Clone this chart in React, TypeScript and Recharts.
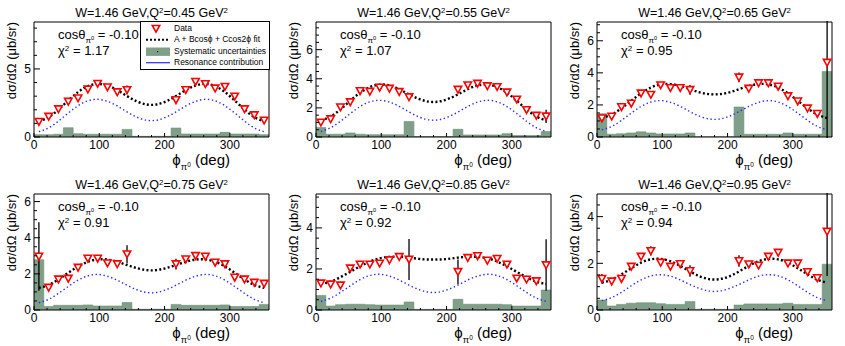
import React from 'react';
import { ComposedChart, XAxis, YAxis, Line, Area, Scatter, ErrorBar, ReferenceArea } from 'recharts';

const FONT = '"Liberation Sans", Arial, Helvetica, sans-serif';

// phi bin centres and bin edges (deg)
const PHI = [7.5, 22.5, 37.5, 52.5, 67.5, 82.5, 97.5, 112.5, 127.5, 142.5, 157.5, 172.5, 187.5, 202.5, 217.5, 232.5, 247.5, 262.5, 277.5, 292.5, 307.5, 322.5, 337.5, 352.5];
const EDGES = [0, 15, 30, 45, 60, 75, 90, 105, 120, 135, 150, 165, 180, 195, 210, 225, 240, 255, 270, 285, 300, 315, 330, 345, 360];

const Q2_LABELS = ['0.45', '0.55', '0.65', '0.75', '0.85', '0.95'];
const CHI2_LABELS = ['1.17', '1.07', '0.95', '0.91', '0.92', '0.94'];
const Y_MAX = [8.45, 7.9, 7.17, 6.42, 5.65, 4.97];
const Y_MAJOR = [[0, 5], [0, 2, 4, 6], [0, 2, 4, 6], [0, 2, 4, 6], [0, 2, 4], [0, 2, 4]];
const Y_MINOR_STEP = [1, 0.5, 0.5, 0.5, 0.5, 0.5];
const X_MAJOR = [0, 100, 200, 300];
const X_MINOR_STEP = 20;

// measured cross sections (null = no data in that bin)
const DATA_045 = [1.12, 1.5, 2.05, 2.6, 2.85, 3.5, 3.92, 3.66, 3.3, 3.46, null, null, null, null, 2.72, 3.46, 4.06, 3.9, 3.58, 3.7, 2.98, 2.05, 1.61, 1.22];
const DATA_055 = [1.0, 1.23, 2.05, 2.4, 3.16, 3.12, 3.4, 3.33, 3.1, 2.74, null, null, null, null, 3.26, 3.56, 3.67, 3.5, 3.44, 3.07, 2.58, 1.86, 1.47, 1.42];
const DATA_065 = [1.17, 1.28, 1.87, 2.09, 2.72, 2.64, 3.23, 3.06, 3.06, 2.94, null, null, null, null, 3.72, 3.02, 3.36, 3.36, 3.15, 2.55, 2.23, 1.79, 1.45, 4.64];
const DATA_075 = [2.96, 1.24, 1.7, 1.74, 2.35, 2.85, 2.85, 2.59, 2.54, 3.09, null, null, null, null, 2.54, 2.81, 3.0, 2.96, 2.63, 2.54, 1.8, 1.7, 1.52, 1.46];
const DATA_085 = [1.3, 1.25, 1.2, 2.03, 2.22, 2.22, 2.27, 2.43, 2.59, 2.46, null, null, null, null, 1.86, 2.54, 2.63, 2.41, 2.5, 2.22, 1.54, 1.49, 1.41, 2.19];
const DATA_095 = [1.34, 1.23, 1.34, 1.86, 2.29, 2.53, 2.03, 1.86, 1.97, 1.67, null, null, null, null, 2.1, 1.96, 1.91, 2.29, 2.46, 2.0, 2.0, 1.63, 1.37, 3.36];

// statistical errors
const ERR_045 = [0.15, 0.15, 0.15, 0.18, 0.18, 0.18, 0.18, 0.18, 0.18, 0.32, null, null, null, null, 0.18, 0.18, 0.18, 0.18, 0.18, 0.18, 0.18, 0.15, 0.15, 0.15];
const ERR_055 = [0.18, 0.15, 0.18, 0.18, 0.18, 0.18, 0.18, 0.18, 0.18, 0.2, null, null, null, null, 0.2, 0.18, 0.18, 0.18, 0.18, 0.18, 0.18, 0.15, 0.15, 0.45];
const ERR_065 = [0.15, 0.15, 0.15, 0.15, 0.15, 0.15, 0.15, 0.15, 0.15, 0.3, null, null, null, null, 0.3, 0.15, 0.15, 0.15, 0.15, 0.15, 0.15, 0.15, 0.15, 4.7];
const ERR_075 = [1.9, 0.15, 0.15, 0.15, 0.15, 0.15, 0.15, 0.15, 0.15, 0.5, null, null, null, null, 0.3, 0.15, 0.15, 0.15, 0.15, 0.15, 0.15, 0.15, 0.15, 0.15];
const ERR_085 = [0.15, 0.12, 0.12, 0.12, 0.12, 0.12, 0.12, 0.12, 0.12, 1.0, null, null, null, null, 0.6, 0.12, 0.12, 0.12, 0.12, 0.12, 0.12, 0.12, 0.12, 1.25];
const ERR_095 = [0.2, 0.12, 0.12, 0.15, 0.15, 0.2, 0.15, 0.15, 0.15, 0.25, null, null, null, null, 0.25, 0.15, 0.15, 0.15, 0.15, 0.15, 0.15, 0.12, 0.12, 1.9];

// systematic uncertainty per 15 deg bin
const SYS_045 = [0.17, 0.17, 0.2, 0.68, 0.24, 0.2, 0.2, 0.2, 0.2, 0.56, 0.05, 0.05, 0.05, 0.05, 0.66, 0.22, 0.22, 0.22, 0.22, 0.34, 0.22, 0.22, 0.22, 0.17];
const SYS_055 = [0.65, 0.19, 0.19, 0.28, 0.19, 0.16, 0.16, 0.16, 0.16, 1.07, 0.03, 0.03, 0.03, 0.03, 0.53, 0.14, 0.14, 0.14, 0.14, 0.23, 0.1, 0.1, 0.1, 0.37];
const SYS_065 = [1.45, 0.17, 0.2, 0.25, 0.32, 0.25, 0.19, 0.19, 0.19, 0.25, 0.02, 0.02, 0.02, 0.02, 1.87, 0.17, 0.17, 0.17, 0.17, 0.25, 0.17, 0.17, 0.17, 4.08];
const SYS_075 = [2.78, 0.19, 0.26, 0.26, 0.26, 0.28, 0.22, 0.22, 0.22, 0.41, 0.04, 0.04, 0.04, 0.04, 0.31, 0.26, 0.26, 0.26, 0.26, 0.28, 0.19, 0.19, 0.19, 0.31];
const SYS_085 = [0.71, 0.19, 0.26, 0.28, 0.28, 0.26, 0.24, 0.24, 0.24, 0.39, 0.03, 0.03, 0.03, 0.03, 0.52, 0.28, 0.28, 0.28, 0.28, 0.26, 0.19, 0.19, 0.19, 0.97];
const SYS_095 = [0.43, 0.17, 0.24, 0.29, 0.31, 0.31, 0.27, 0.24, 0.24, 0.36, 0.03, 0.03, 0.03, 0.03, 0.21, 0.26, 0.26, 0.26, 0.26, 0.29, 0.24, 0.24, 0.24, 1.96];

// A + Bcos(phi) + Ccos(2phi) fit, read at bin centres
const FIT_045 = [1.15, 1.46, 2.02, 2.68, 3.3, 3.73, 3.9, 3.78, 3.45, 3.01, 2.62, 2.39, 2.39, 2.62, 3.01, 3.45, 3.78, 3.9, 3.73, 3.3, 2.68, 2.02, 1.46, 1.15];
const FIT_055 = [1.14, 1.41, 1.9, 2.49, 3.04, 3.43, 3.6, 3.54, 3.28, 2.93, 2.62, 2.43, 2.43, 2.62, 2.93, 3.28, 3.54, 3.6, 3.43, 3.04, 2.49, 1.9, 1.41, 1.14];
const FIT_065 = [1.18, 1.4, 1.79, 2.26, 2.72, 3.08, 3.28, 3.3, 3.18, 2.98, 2.78, 2.67, 2.67, 2.78, 2.98, 3.18, 3.3, 3.28, 3.08, 2.72, 2.26, 1.79, 1.4, 1.18];
const FIT_075 = [1.22, 1.39, 1.69, 2.06, 2.41, 2.67, 2.8, 2.79, 2.67, 2.49, 2.32, 2.21, 2.21, 2.32, 2.49, 2.67, 2.79, 2.8, 2.67, 2.41, 2.06, 1.69, 1.39, 1.22];
const FIT_085 = [1.27, 1.38, 1.6, 1.86, 2.13, 2.36, 2.52, 2.59, 2.59, 2.55, 2.49, 2.46, 2.46, 2.49, 2.55, 2.59, 2.59, 2.52, 2.36, 2.13, 1.86, 1.6, 1.38, 1.27];
const FIT_095 = [1.17, 1.3, 1.53, 1.79, 2.03, 2.17, 2.19, 2.09, 1.89, 1.65, 1.44, 1.32, 1.32, 1.44, 1.65, 1.89, 2.09, 2.19, 2.17, 2.03, 1.79, 1.53, 1.3, 1.17];

// resonance contribution
const RES_045 = [0.39, 0.67, 1.17, 1.76, 2.3, 2.66, 2.77, 2.62, 2.28, 1.84, 1.46, 1.23, 1.23, 1.46, 1.84, 2.28, 2.62, 2.77, 2.66, 2.3, 1.76, 1.17, 0.67, 0.39];
const RES_055 = [0.38, 0.64, 1.08, 1.61, 2.09, 2.42, 2.52, 2.4, 2.1, 1.72, 1.38, 1.18, 1.18, 1.38, 1.72, 2.1, 2.4, 2.52, 2.42, 2.09, 1.61, 1.08, 0.64, 0.38];
const RES_065 = [0.45, 0.66, 1.04, 1.49, 1.9, 2.18, 2.27, 2.16, 1.91, 1.58, 1.29, 1.12, 1.12, 1.29, 1.58, 1.91, 2.16, 2.27, 2.18, 1.9, 1.49, 1.04, 0.66, 0.45];
const RES_075 = [0.4, 0.59, 0.92, 1.3, 1.65, 1.89, 1.97, 1.87, 1.65, 1.37, 1.12, 0.97, 0.97, 1.12, 1.37, 1.65, 1.87, 1.97, 1.89, 1.65, 1.3, 0.92, 0.59, 0.4];
const RES_085 = [0.42, 0.58, 0.86, 1.18, 1.48, 1.68, 1.74, 1.65, 1.46, 1.21, 1.0, 0.87, 0.87, 1.0, 1.21, 1.46, 1.65, 1.74, 1.68, 1.48, 1.18, 0.86, 0.58, 0.42];
const RES_095 = [0.4, 0.53, 0.76, 1.04, 1.29, 1.46, 1.51, 1.45, 1.29, 1.09, 0.92, 0.81, 0.81, 0.92, 1.09, 1.29, 1.45, 1.51, 1.46, 1.29, 1.04, 0.76, 0.53, 0.4];

const DATA = [DATA_045, DATA_055, DATA_065, DATA_075, DATA_085, DATA_095];
const ERR = [ERR_045, ERR_055, ERR_065, ERR_075, ERR_085, ERR_095];
const SYS = [SYS_045, SYS_055, SYS_065, SYS_075, SYS_085, SYS_095];
const FIT = [FIT_045, FIT_055, FIT_065, FIT_075, FIT_085, FIT_095];
const RES = [RES_045, RES_055, RES_065, RES_075, RES_085, RES_095];

const COL_LEFT = [34, 316, 597];
const ROW_TOP = [22, 194];
const ROW_H = [115, 116];
const PLOT_W = 235;

const SYS_COLOR = '#7f9f88';
const RES_COLOR = '#2828ff';

const Y_GAP = 3;
const X_GAP = 2;

function YTick(props: any) {
  const { x, y, payload, major } = props;
  const isMajor = major.includes(payload.value);
  const x0 = x + Y_GAP;
  return (
    <g>
      <line x1={x0} x2={x0 + (isMajor ? 6 : 3)} y1={y} y2={y} stroke="#000" strokeWidth={1} />
      {isMajor && (
        <text x={x} y={y} dy="0.36em" textAnchor="end" fontSize={12} fontFamily={FONT} fill="#000">
          {payload.value}
        </text>
      )}
    </g>
  );
}

function XTick(props: any) {
  const { x, y, payload } = props;
  const isMajor = X_MAJOR.includes(payload.value);
  const y0 = y - X_GAP;
  return (
    <g>
      <line x1={x} x2={x} y1={y0} y2={y0 - (isMajor ? 4 : 2)} stroke="#000" strokeWidth={1} />
      {isMajor && (
        <text x={x} y={y} dy="0.8em" textAnchor="middle" fontSize={12} fontFamily={FONT} fill="#000">
          {payload.value}
        </text>
      )}
    </g>
  );
}

function Tri(props: any) {
  const { cx, cy } = props;
  if (cx == null || cy == null) return null;
  const s = 3.7;
  return (
    <polygon
      points={`${cx - s},${cy - 3.2} ${cx + s},${cy - 3.2} ${cx},${cy + 3.5}`}
      fill="#fff"
      stroke="#ff0000"
      strokeWidth={1.6}
      strokeLinejoin="miter"
    />
  );
}

const sup = { fontSize: '0.62em', verticalAlign: '0.55em', lineHeight: 0 } as const;
const sub = { fontSize: '0.62em', verticalAlign: '-0.45em', lineHeight: 0 } as const;

function Panel({ i }: { i: number }) {
  const col = i % 3;
  const row = Math.floor(i / 3);
  const left = COL_LEFT[col];
  const top = ROW_TOP[row];
  const ph = ROW_H[row];
  const ymax = Y_MAX[i];

  const pts = PHI.map((phi, k) => ({ phi, v: DATA[i][k], err: ERR[i][k] })).filter((d) => d.v !== null);
  const curves = PHI.map((phi, k) => ({ phi, fit: FIT[i][k], res: RES[i][k] }));
  const sysRows = EDGES.map((phi, k) => ({ phi, sys: SYS[i][Math.min(k, SYS[i].length - 1)] }));

  const yTicks: number[] = [];
  for (let v = 0; v <= ymax + 1e-9; v += Y_MINOR_STEP[i]) yTicks.push(Math.round(v * 100) / 100);
  const xTicks: number[] = [];
  for (let v = 0; v < 360; v += X_MINOR_STEP) xTicks.push(v);

  const bottom = top + ph;

  return (
    <>
      {/* clip top margin so long error bars stop at the frame */}
      <div style={{ position: 'absolute', left: left - 34, top: top - 22, clipPath: 'inset(21px 0px 0px 0px)' }}>
        <ComposedChart width={34 + PLOT_W + 6} height={22 + ph + 24} margin={{ top: 22, right: 6, bottom: 4, left: 4 }}>
          <XAxis
            dataKey="phi"
            type="number"
            domain={[0, 360]}
            allowDataOverflow
            ticks={xTicks}
            interval={0}
            tickSize={0}
            tickMargin={X_GAP}
            axisLine={false}
            tickLine={false}
            height={20}
            tick={<XTick />}
          />
          <YAxis
            type="number"
            domain={[0, ymax]}
            allowDataOverflow
            ticks={yTicks}
            interval={0}
            tickSize={0}
            tickMargin={Y_GAP}
            axisLine={false}
            tickLine={false}
            width={30}
            tick={(p: any) => <YTick {...p} major={Y_MAJOR[i]} />}
          />
          <Area
            data={sysRows}
            dataKey="sys"
            type="stepAfter"
            baseValue={0}
            fill={SYS_COLOR}
            fillOpacity={1}
            stroke="#6d8d76"
            strokeWidth={0.6}
            isAnimationActive={false}
          />
          <Line
            data={curves}
            dataKey="res"
            type="natural"
            stroke={RES_COLOR}
            strokeWidth={1.4}
            strokeDasharray="1.4 2.6"
            dot={false}
            isAnimationActive={false}
          />
          <Line
            data={curves}
            dataKey="fit"
            type="natural"
            stroke="#000"
            strokeWidth={2.4}
            strokeDasharray="2 2.3"
            dot={false}
            isAnimationActive={false}
          />
          <Scatter data={pts} dataKey="v" shape={(p: any) => <Tri cx={p.cx} cy={p.cy} />} isAnimationActive={false}>
            <ErrorBar dataKey="err" direction="y" width={0} stroke="#000" strokeWidth={1.3} />
          </Scatter>
          <ReferenceArea x1={0} x2={360} y1={0} y2={ymax} fill="none" stroke="#000" strokeWidth={1} />
        </ComposedChart>
      </div>

      {/* title */}
      <div
        style={{
          position: 'absolute',
          left,
          top: top - 16.5,
          width: PLOT_W,
          textAlign: 'center',
          fontSize: 12.5,
          lineHeight: '14px',
          whiteSpace: 'nowrap',
        }}
      >
        W=1.46 GeV,Q<span style={sup}>2</span>={Q2_LABELS[i]} GeV<span style={sup}>2</span>
      </div>

      {/* angle and chi2 */}
      <div style={{ position: 'absolute', left: left + 24, top: top + 5, fontSize: 13, lineHeight: '15px', whiteSpace: 'nowrap' }}>
        cosθ
        <span style={sub}>
          π<span style={{ fontSize: '0.7em', verticalAlign: '0.5em' }}>0</span>
        </span>{' '}
        = -0.10
      </div>
      <div style={{ position: 'absolute', left: left + 24, top: top + 21, fontSize: 13, lineHeight: '15px', whiteSpace: 'nowrap' }}>
        χ<span style={sup}>2</span> = {CHI2_LABELS[i]}
      </div>

      {/* y title */}
      <div
        style={{
          position: 'absolute',
          left: left - 30,
          top: top + 120,
          width: 120,
          textAlign: 'right',
          fontSize: 13,
          lineHeight: '15px',
          whiteSpace: 'nowrap',
          transform: 'rotate(-90deg)',
          transformOrigin: '0 0',
        }}
      >
        dσ/dΩ (μb/sr)
      </div>

      {/* x title */}
      <div
        style={{
          position: 'absolute',
          left: left + 196 - 200,
          top: bottom + 27 - 11,
          width: 200,
          textAlign: 'right',
          fontSize: 15,
          lineHeight: '13px',
          whiteSpace: 'nowrap',
        }}
      >
        ϕ
        <span style={{ fontSize: '0.62em', verticalAlign: '-0.5em', lineHeight: 0 }}>
          π<span style={{ fontSize: '0.7em', verticalAlign: '0.5em' }}>0</span>
        </span>{' '}
        (deg)
      </div>
    </>
  );
}

function LegendBox() {
  const rowH = 11.4;
  const items = ['Data', 'A + Bcosϕ + Ccos2ϕ fit', 'Systematic uncertainties', 'Resonance contribution'];
  return (
    <div
      style={{
        position: 'absolute',
        left: 140,
        top: 21,
        width: 128,
        height: 47,
        border: '1px solid #000',
        background: '#fff',
        fontSize: 8.5,
      }}
    >
      {items.map((label, k) => (
        <div key={label} style={{ position: 'absolute', left: 0, top: 1 + k * rowH, height: rowH, width: 128 }}>
          <svg width={28} height={rowH} style={{ position: 'absolute', left: 4, top: 0 }}>
            {k === 0 && <Tri cx={11} cy={rowH / 2} />}
            {k === 1 && <line x1={1} x2={25} y1={rowH / 2} y2={rowH / 2} stroke="#000" strokeWidth={2} strokeDasharray="2 2" />}
            {k === 2 && (
              <>
                <rect x={1} y={1.5} width={24} height={rowH - 3} fill={SYS_COLOR} />
                <rect x={12} y={rowH / 2 - 0.6} width={1.2} height={1.2} fill="#000" />
              </>
            )}
            {k === 3 && <line x1={1} x2={25} y1={rowH / 2} y2={rowH / 2} stroke={RES_COLOR} strokeWidth={1.2} />}
          </svg>
          <div style={{ position: 'absolute', left: 33, top: 0, lineHeight: `${rowH}px`, whiteSpace: 'nowrap' }}>{label}</div>
        </div>
      ))}
    </div>
  );
}

export default function App() {
  return (
    <div
      style={{
        position: 'absolute',
        left: 0,
        top: 0,
        width: 845,
        height: 346,
        background: '#fff',
        fontFamily: FONT,
        color: '#000',
        overflow: 'hidden',
      }}
    >
      {[0, 1, 2, 3, 4, 5].map((i) => (
        <Panel key={i} i={i} />
      ))}
      <LegendBox />
    </div>
  );
}
